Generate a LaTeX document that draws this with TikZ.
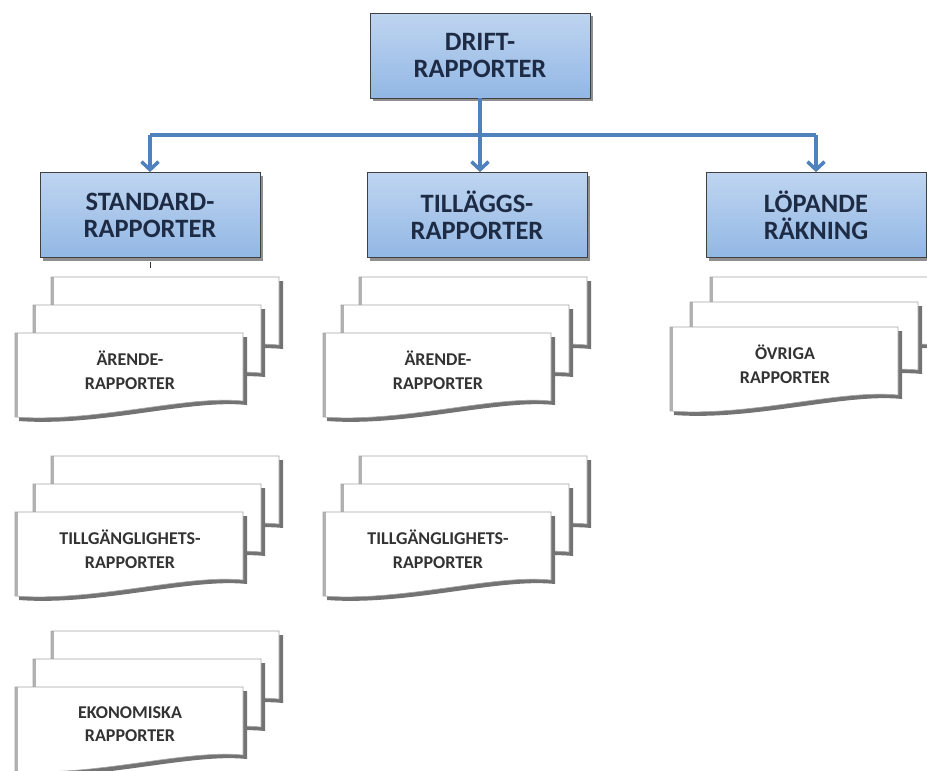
\documentclass[tikz,border=0pt]{standalone}
\usepackage{fontspec}
\setmainfont{Carlito}
\usetikzlibrary{arrows.meta,shadows}
\definecolor{boxtop}{HTML}{BFD5F0}
\definecolor{boxbot}{HTML}{92B7E4}
\definecolor{boxtext}{HTML}{1E2B45}
\definecolor{arrowblue}{HTML}{4F81BD}
\tikzset{
  mainbox/.style={draw=black!75, line width=0.8pt, top color=boxtop, bottom color=boxbot,
    minimum width=220pt, minimum height=85pt, inner sep=0pt, align=center,
    font=\fontsize{26.5}{27}\selectfont\bfseries, text=boxtext,
    drop shadow={shadow xshift=3pt, shadow yshift=-3pt, opacity=.55, fill=black!80}},
  conn/.style={draw=arrowblue, line width=3.5pt, -{Straight Barb[length=8pt,width=17pt]}},
  bar/.style={draw=arrowblue, line width=3.5pt},
  doctext/.style={font=\fontsize{18}{23.5}\selectfont\bfseries, text=black!80, align=center, inner sep=0pt},
  docpage/.pic={
    \fill[black!55] (4,4) -- (232,4) -- (232,72) .. controls (175,66) and (84,94) .. (4,88) -- cycle;
    \fill[white] (0,0) -- (228,0) -- (228,68) .. controls (171,62) and (80,90) .. (0,84) -- cycle;
    \fill[black!30] (0,0) rectangle (3,84);
    \draw[black!35, line width=0.6pt] (0,0) -- (228,0) -- (228,68) .. controls (171,62) and (80,90) .. (0,84) -- cycle;
  }
}
\newcommand{\docstack}[6]{%
  \pic at ({#2+2*#4},{#3+2*#5}) {docpage};
  \pic at ({#2+#4},{#3+#5}) {docpage};
  \pic at (#2,#3) {docpage};
  \node[doctext] (#1) at ({#2+115},{#3+37}) {#6};
}
\begin{document}
\begin{tikzpicture}[x=1pt,y=-1pt]
  \useasboundingbox[fill=white] (0,0) rectangle (927,771);
  % main boxes
  \node[mainbox] (drift) at (480,55.5) {DRIFT-\\RAPPORTER};
  \node[mainbox] (std) at (150,215) {STANDARD-\\RAPPORTER};
  \node[mainbox] (till) at (477,215) {TILLÄGGS-\\RAPPORTER};
  \node[mainbox] (lop) at (816,215) {LÖPANDE\\RÄKNING};
  % connectors
  \coordinate (barc) at (480,135);
  \draw[bar] (std.north |- barc) -- (lop.north |- barc);
  \draw[conn] (drift.south) -- (drift.south |- till.north);
  \draw[conn] (std.north |- barc) -- (std.north);
  \draw[conn] (lop.north |- barc) -- (lop.north);
  % small tick below STANDARD
  \draw[black!80, line width=1pt] (std.south) ++(0,4) -- ++(0,6);
  % document stacks
  \docstack{std1}{15}{333}{18}{-28}{ÄRENDE-\\RAPPORTER}
  \docstack{std2}{15}{512}{18}{-28}{TILLGÄNGLIGHETS-\\RAPPORTER}
  \docstack{std3}{15}{687}{18}{-28}{EKONOMISKA\\RAPPORTER}
  \docstack{till1}{323}{333}{18}{-28}{ÄRENDE-\\RAPPORTER}
  \docstack{till2}{323}{512}{18}{-28}{TILLGÄNGLIGHETS-\\RAPPORTER}
  \docstack{lop1}{670}{327}{20}{-25}{ÖVRIGA\\RAPPORTER}
\end{tikzpicture}
\end{document}
